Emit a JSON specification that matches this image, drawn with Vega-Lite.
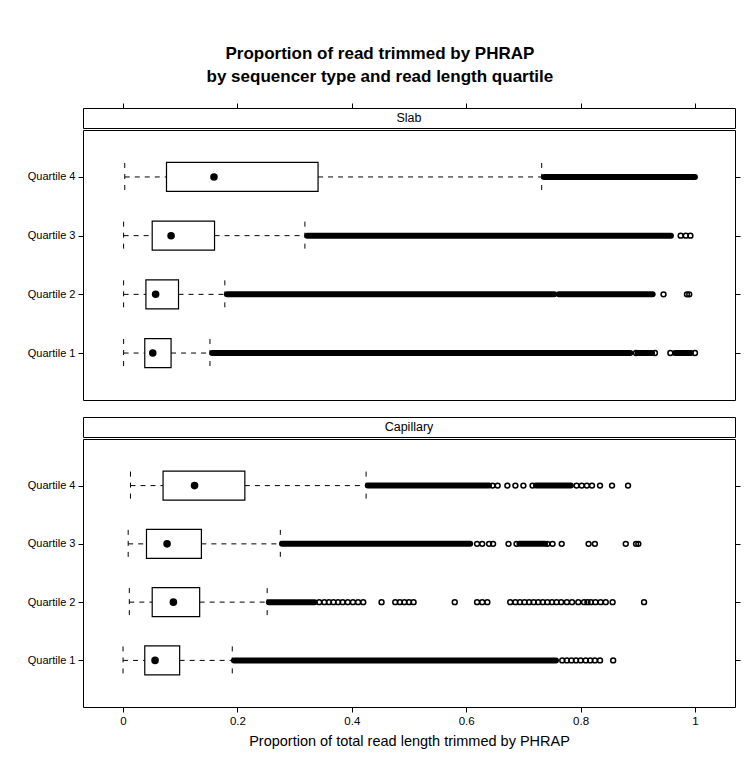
{
  "$schema": "https://vega.github.io/schema/vega-lite/v6.json",
  "padding": {"left": 26, "top": 45, "right": 5, "bottom": 5},
  "background": "white",
  "title": {
    "text": ["Proportion of read trimmed by PHRAP", "by sequencer type and read length quartile"],
    "font": "Liberation Sans",
    "fontSize": 17,
    "fontWeight": "bold",
    "color": "black",
    "anchor": "middle",
    "lineHeight": 23,
    "offset": 16,
    "dx": -4
  },
  "config": {
    "view": {"stroke": "black", "strokeWidth": 1},
    "font": "Liberation Sans",
    "axis": {
      "labelFont": "Liberation Sans",
      "titleFont": "Liberation Sans",
      "labelColor": "black",
      "titleColor": "black",
      "tickColor": "black",
      "domain": false,
      "grid": false
    }
  },
  "datasets": {
    "boxes": [
      {"panel": "Slab", "quartile": "Quartile 4", "lower": 0.003, "q1": 0.076, "median": 0.159, "q3": 0.341, "upper": 0.732},
      {"panel": "Slab", "quartile": "Quartile 3", "lower": 0.001, "q1": 0.051, "median": 0.084, "q3": 0.160, "upper": 0.318},
      {"panel": "Slab", "quartile": "Quartile 2", "lower": 0.001, "q1": 0.040, "median": 0.057, "q3": 0.097, "upper": 0.178},
      {"panel": "Slab", "quartile": "Quartile 1", "lower": 0.001, "q1": 0.038, "median": 0.052, "q3": 0.084, "upper": 0.152},
      {"panel": "Capillary", "quartile": "Quartile 4", "lower": 0.013, "q1": 0.070, "median": 0.125, "q3": 0.213, "upper": 0.425},
      {"panel": "Capillary", "quartile": "Quartile 3", "lower": 0.009, "q1": 0.041, "median": 0.077, "q3": 0.137, "upper": 0.275},
      {"panel": "Capillary", "quartile": "Quartile 2", "lower": 0.011, "q1": 0.051, "median": 0.088, "q3": 0.134, "upper": 0.252},
      {"panel": "Capillary", "quartile": "Quartile 1", "lower": 0.0, "q1": 0.038, "median": 0.056, "q3": 0.099, "upper": 0.191}
    ],
    "runs": [
      {"panel": "Slab", "quartile": "Quartile 4", "start": 0.736, "end": 1.0},
      {"panel": "Slab", "quartile": "Quartile 3", "start": 0.322, "end": 0.958},
      {"panel": "Slab", "quartile": "Quartile 2", "start": 0.182, "end": 0.754},
      {"panel": "Slab", "quartile": "Quartile 2", "start": 0.762, "end": 0.926},
      {"panel": "Slab", "quartile": "Quartile 1", "start": 0.156, "end": 0.887},
      {"panel": "Slab", "quartile": "Quartile 1", "start": 0.900, "end": 0.925},
      {"panel": "Slab", "quartile": "Quartile 1", "start": 0.965, "end": 0.993},
      {"panel": "Capillary", "quartile": "Quartile 4", "start": 0.428, "end": 0.640},
      {"panel": "Capillary", "quartile": "Quartile 4", "start": 0.722, "end": 0.783},
      {"panel": "Capillary", "quartile": "Quartile 3", "start": 0.278, "end": 0.607},
      {"panel": "Capillary", "quartile": "Quartile 3", "start": 0.693, "end": 0.738},
      {"panel": "Capillary", "quartile": "Quartile 2", "start": 0.255, "end": 0.335},
      {"panel": "Capillary", "quartile": "Quartile 1", "start": 0.194, "end": 0.757}
    ],
    "points": [
      {"panel": "Slab", "quartile": "Quartile 3", "value": 0.975},
      {"panel": "Slab", "quartile": "Quartile 3", "value": 0.984},
      {"panel": "Slab", "quartile": "Quartile 3", "value": 0.992},
      {"panel": "Slab", "quartile": "Quartile 2", "value": 0.945},
      {"panel": "Slab", "quartile": "Quartile 2", "value": 0.986},
      {"panel": "Slab", "quartile": "Quartile 2", "value": 0.990},
      {"panel": "Slab", "quartile": "Quartile 1", "value": 0.897},
      {"panel": "Slab", "quartile": "Quartile 1", "value": 0.930},
      {"panel": "Slab", "quartile": "Quartile 1", "value": 0.957},
      {"panel": "Slab", "quartile": "Quartile 1", "value": 1.0},
      {"panel": "Capillary", "quartile": "Quartile 4", "value": 0.646},
      {"panel": "Capillary", "quartile": "Quartile 4", "value": 0.655},
      {"panel": "Capillary", "quartile": "Quartile 4", "value": 0.672},
      {"panel": "Capillary", "quartile": "Quartile 4", "value": 0.686},
      {"panel": "Capillary", "quartile": "Quartile 4", "value": 0.700},
      {"panel": "Capillary", "quartile": "Quartile 4", "value": 0.716},
      {"panel": "Capillary", "quartile": "Quartile 4", "value": 0.793},
      {"panel": "Capillary", "quartile": "Quartile 4", "value": 0.802},
      {"panel": "Capillary", "quartile": "Quartile 4", "value": 0.811},
      {"panel": "Capillary", "quartile": "Quartile 4", "value": 0.820},
      {"panel": "Capillary", "quartile": "Quartile 4", "value": 0.834},
      {"panel": "Capillary", "quartile": "Quartile 4", "value": 0.855},
      {"panel": "Capillary", "quartile": "Quartile 4", "value": 0.883},
      {"panel": "Capillary", "quartile": "Quartile 3", "value": 0.619},
      {"panel": "Capillary", "quartile": "Quartile 3", "value": 0.628},
      {"panel": "Capillary", "quartile": "Quartile 3", "value": 0.640},
      {"panel": "Capillary", "quartile": "Quartile 3", "value": 0.647},
      {"panel": "Capillary", "quartile": "Quartile 3", "value": 0.674},
      {"panel": "Capillary", "quartile": "Quartile 3", "value": 0.688},
      {"panel": "Capillary", "quartile": "Quartile 3", "value": 0.742},
      {"panel": "Capillary", "quartile": "Quartile 3", "value": 0.751},
      {"panel": "Capillary", "quartile": "Quartile 3", "value": 0.767},
      {"panel": "Capillary", "quartile": "Quartile 3", "value": 0.814},
      {"panel": "Capillary", "quartile": "Quartile 3", "value": 0.825},
      {"panel": "Capillary", "quartile": "Quartile 3", "value": 0.879},
      {"panel": "Capillary", "quartile": "Quartile 3", "value": 0.897},
      {"panel": "Capillary", "quartile": "Quartile 3", "value": 0.901},
      {"panel": "Capillary", "quartile": "Quartile 2", "value": 0.343},
      {"panel": "Capillary", "quartile": "Quartile 2", "value": 0.352},
      {"panel": "Capillary", "quartile": "Quartile 2", "value": 0.360},
      {"panel": "Capillary", "quartile": "Quartile 2", "value": 0.368},
      {"panel": "Capillary", "quartile": "Quartile 2", "value": 0.376},
      {"panel": "Capillary", "quartile": "Quartile 2", "value": 0.384},
      {"panel": "Capillary", "quartile": "Quartile 2", "value": 0.393},
      {"panel": "Capillary", "quartile": "Quartile 2", "value": 0.402},
      {"panel": "Capillary", "quartile": "Quartile 2", "value": 0.411},
      {"panel": "Capillary", "quartile": "Quartile 2", "value": 0.420},
      {"panel": "Capillary", "quartile": "Quartile 2", "value": 0.452},
      {"panel": "Capillary", "quartile": "Quartile 2", "value": 0.476},
      {"panel": "Capillary", "quartile": "Quartile 2", "value": 0.484},
      {"panel": "Capillary", "quartile": "Quartile 2", "value": 0.492},
      {"panel": "Capillary", "quartile": "Quartile 2", "value": 0.500},
      {"panel": "Capillary", "quartile": "Quartile 2", "value": 0.508},
      {"panel": "Capillary", "quartile": "Quartile 2", "value": 0.580},
      {"panel": "Capillary", "quartile": "Quartile 2", "value": 0.619},
      {"panel": "Capillary", "quartile": "Quartile 2", "value": 0.628},
      {"panel": "Capillary", "quartile": "Quartile 2", "value": 0.637},
      {"panel": "Capillary", "quartile": "Quartile 2", "value": 0.677},
      {"panel": "Capillary", "quartile": "Quartile 2", "value": 0.686},
      {"panel": "Capillary", "quartile": "Quartile 2", "value": 0.694},
      {"panel": "Capillary", "quartile": "Quartile 2", "value": 0.702},
      {"panel": "Capillary", "quartile": "Quartile 2", "value": 0.710},
      {"panel": "Capillary", "quartile": "Quartile 2", "value": 0.718},
      {"panel": "Capillary", "quartile": "Quartile 2", "value": 0.726},
      {"panel": "Capillary", "quartile": "Quartile 2", "value": 0.734},
      {"panel": "Capillary", "quartile": "Quartile 2", "value": 0.742},
      {"panel": "Capillary", "quartile": "Quartile 2", "value": 0.750},
      {"panel": "Capillary", "quartile": "Quartile 2", "value": 0.758},
      {"panel": "Capillary", "quartile": "Quartile 2", "value": 0.766},
      {"panel": "Capillary", "quartile": "Quartile 2", "value": 0.776},
      {"panel": "Capillary", "quartile": "Quartile 2", "value": 0.785},
      {"panel": "Capillary", "quartile": "Quartile 2", "value": 0.796},
      {"panel": "Capillary", "quartile": "Quartile 2", "value": 0.806},
      {"panel": "Capillary", "quartile": "Quartile 2", "value": 0.812},
      {"panel": "Capillary", "quartile": "Quartile 2", "value": 0.818},
      {"panel": "Capillary", "quartile": "Quartile 2", "value": 0.826},
      {"panel": "Capillary", "quartile": "Quartile 2", "value": 0.835},
      {"panel": "Capillary", "quartile": "Quartile 2", "value": 0.844},
      {"panel": "Capillary", "quartile": "Quartile 2", "value": 0.856},
      {"panel": "Capillary", "quartile": "Quartile 2", "value": 0.911},
      {"panel": "Capillary", "quartile": "Quartile 1", "value": 0.768},
      {"panel": "Capillary", "quartile": "Quartile 1", "value": 0.776},
      {"panel": "Capillary", "quartile": "Quartile 1", "value": 0.784},
      {"panel": "Capillary", "quartile": "Quartile 1", "value": 0.792},
      {"panel": "Capillary", "quartile": "Quartile 1", "value": 0.800},
      {"panel": "Capillary", "quartile": "Quartile 1", "value": 0.809},
      {"panel": "Capillary", "quartile": "Quartile 1", "value": 0.817},
      {"panel": "Capillary", "quartile": "Quartile 1", "value": 0.825},
      {"panel": "Capillary", "quartile": "Quartile 1", "value": 0.834},
      {"panel": "Capillary", "quartile": "Quartile 1", "value": 0.857}
    ]
  },
  "spacing": 15,
  "vconcat": [
    {
      "spacing": 0,
      "vconcat": [
        {
          "width": 652,
          "height": 20,
          "data": {"values": [{"panel": "Slab"}]},
          "mark": {"type": "text", "fontSize": 12.5, "font": "Liberation Sans", "color": "black"},
          "encoding": {
            "text": {"field": "panel"},
            "x": {"datum": 0.5, "type": "quantitative", "scale": {"domain": [-0.07, 1.07], "nice": false, "zero": false},
              "axis": {"orient": "top", "values": [0, 0.2, 0.4, 0.6, 0.8, 1], "labels": false, "tickSize": 5, "title": null}}
          }
        },
        {
          "width": 652,
          "height": 270,
          "resolve": {"axis": {"y": "independent"}},
          "layer": [
            {
              "data": {"name": "boxes"},
              "transform": [{"filter": "datum.panel === 'Slab'"}],
              "mark": {"type": "rule", "color": "black", "strokeDash": [5, 5], "strokeWidth": 1},
              "encoding": {
                "x": {"field": "lower", "type": "quantitative", "scale": {"domain": [-0.07, 1.07], "nice": false, "zero": false}, "axis": null},
                "x2": {"field": "q1"},
                "y": {"field": "quartile", "type": "ordinal", "scale": {"type": "point", "domain": ["Quartile 4", "Quartile 3", "Quartile 2", "Quartile 1"], "padding": 0.8},
                  "axis": {"orient": "left", "title": null, "labelFontSize": 11, "tickSize": 5, "labelPadding": 3}}
              }
            },
            {
              "data": {"name": "boxes"},
              "transform": [{"filter": "datum.panel === 'Slab'"}],
              "mark": {"type": "rule", "color": "black", "strokeDash": [5, 5], "strokeWidth": 1},
              "encoding": {
                "x": {"field": "q3", "type": "quantitative", "axis": null},
                "x2": {"field": "upper"},
                "y": {"field": "quartile", "type": "ordinal", "axis": null}
              }
            },
            {
              "data": {"name": "boxes"},
              "transform": [{"filter": "datum.panel === 'Slab'"}],
              "mark": {"type": "rule", "color": "black", "strokeDash": [5, 6], "strokeWidth": 1, "yOffset": -14, "y2Offset": 14},
              "encoding": {
                "x": {"field": "lower", "type": "quantitative", "axis": null},
                "y": {"field": "quartile", "type": "ordinal", "axis": null},
                "y2": {"field": "quartile"}
              }
            },
            {
              "data": {"name": "boxes"},
              "transform": [{"filter": "datum.panel === 'Slab'"}],
              "mark": {"type": "rule", "color": "black", "strokeDash": [5, 6], "strokeWidth": 1, "yOffset": -14, "y2Offset": 14},
              "encoding": {
                "x": {"field": "upper", "type": "quantitative", "axis": null},
                "y": {"field": "quartile", "type": "ordinal", "axis": null},
                "y2": {"field": "quartile"}
              }
            },
            {
              "data": {"name": "boxes"},
              "transform": [{"filter": "datum.panel === 'Slab'"}],
              "mark": {"type": "bar", "size": 29, "fill": "white", "stroke": "black", "strokeWidth": 1.2},
              "encoding": {
                "x": {"field": "q1", "type": "quantitative", "axis": null},
                "x2": {"field": "q3"},
                "y": {"field": "quartile", "type": "ordinal", "axis": null}
              }
            },
            {
              "data": {"name": "boxes"},
              "transform": [{"filter": "datum.panel === 'Slab'"}],
              "mark": {"type": "point", "filled": true, "color": "black", "size": 57, "opacity": 1},
              "encoding": {
                "x": {"field": "median", "type": "quantitative", "axis": null},
                "y": {"field": "quartile", "type": "ordinal", "axis": null}
              }
            },
            {
              "data": {"name": "runs"},
              "transform": [{"filter": "datum.panel === 'Slab'"}],
              "mark": {"type": "rule", "color": "black", "strokeWidth": 6, "strokeCap": "round"},
              "encoding": {
                "x": {"field": "start", "type": "quantitative", "axis": null},
                "x2": {"field": "end"},
                "y": {"field": "quartile", "type": "ordinal", "axis": null}
              }
            },
            {
              "data": {"name": "points"},
              "transform": [{"filter": "datum.panel === 'Slab'"}],
              "mark": {"type": "point", "filled": false, "stroke": "black", "strokeWidth": 1.5, "size": 24, "opacity": 1},
              "encoding": {
                "x": {"field": "value", "type": "quantitative", "axis": null},
                "y": {"field": "quartile", "type": "ordinal", "axis": {"orient": "right", "title": null, "labels": false, "tickSize": 5}}
              }
            }
          ]
        }
      ]
    },
    {
      "spacing": 0,
      "vconcat": [
        {
          "width": 652,
          "height": 20,
          "data": {"values": [{"panel": "Capillary"}]},
          "mark": {"type": "text", "fontSize": 12.5, "font": "Liberation Sans", "color": "black"},
          "encoding": {
            "text": {"field": "panel"},
            "x": {"datum": 0.5, "type": "quantitative", "scale": {"domain": [-0.07, 1.07], "nice": false, "zero": false}, "axis": null}
          }
        },
        {
          "width": 652,
          "height": 268,
          "resolve": {"axis": {"y": "independent"}},
          "encoding": {
            "x": {"type": "quantitative", "scale": {"domain": [-0.07, 1.07], "nice": false, "zero": false},
              "axis": {"orient": "bottom", "values": [0, 0.2, 0.4, 0.6, 0.8, 1], "format": "~g", "title": "Proportion of total read length trimmed by PHRAP",
                "titleFontSize": 14.5, "titleFontWeight": "normal", "titlePadding": 8, "labelFontSize": 11.5, "tickSize": 5, "labelPadding": 3}}
          },
          "layer": [
            {
              "data": {"name": "boxes"},
              "transform": [{"filter": "datum.panel === 'Capillary'"}],
              "mark": {"type": "rule", "color": "black", "strokeDash": [5, 5], "strokeWidth": 1},
              "encoding": {
                "x": {"field": "lower"},
                "x2": {"field": "q1"},
                "y": {"field": "quartile", "type": "ordinal", "scale": {"type": "point", "domain": ["Quartile 4", "Quartile 3", "Quartile 2", "Quartile 1"], "padding": 0.8},
                  "axis": {"orient": "left", "title": null, "labelFontSize": 11, "tickSize": 5, "labelPadding": 3}}
              }
            },
            {
              "data": {"name": "boxes"},
              "transform": [{"filter": "datum.panel === 'Capillary'"}],
              "mark": {"type": "rule", "color": "black", "strokeDash": [5, 5], "strokeWidth": 1},
              "encoding": {
                "x": {"field": "q3"},
                "x2": {"field": "upper"},
                "y": {"field": "quartile", "type": "ordinal", "axis": null}
              }
            },
            {
              "data": {"name": "boxes"},
              "transform": [{"filter": "datum.panel === 'Capillary'"}],
              "mark": {"type": "rule", "color": "black", "strokeDash": [5, 6], "strokeWidth": 1, "yOffset": -14, "y2Offset": 14},
              "encoding": {
                "x": {"field": "lower"},
                "y": {"field": "quartile", "type": "ordinal", "axis": null},
                "y2": {"field": "quartile"}
              }
            },
            {
              "data": {"name": "boxes"},
              "transform": [{"filter": "datum.panel === 'Capillary'"}],
              "mark": {"type": "rule", "color": "black", "strokeDash": [5, 6], "strokeWidth": 1, "yOffset": -14, "y2Offset": 14},
              "encoding": {
                "x": {"field": "upper"},
                "y": {"field": "quartile", "type": "ordinal", "axis": null},
                "y2": {"field": "quartile"}
              }
            },
            {
              "data": {"name": "boxes"},
              "transform": [{"filter": "datum.panel === 'Capillary'"}],
              "mark": {"type": "bar", "size": 29, "fill": "white", "stroke": "black", "strokeWidth": 1.2},
              "encoding": {
                "x": {"field": "q1"},
                "x2": {"field": "q3"},
                "y": {"field": "quartile", "type": "ordinal", "axis": null}
              }
            },
            {
              "data": {"name": "boxes"},
              "transform": [{"filter": "datum.panel === 'Capillary'"}],
              "mark": {"type": "point", "filled": true, "color": "black", "size": 57, "opacity": 1},
              "encoding": {
                "x": {"field": "median"},
                "y": {"field": "quartile", "type": "ordinal", "axis": null}
              }
            },
            {
              "data": {"name": "runs"},
              "transform": [{"filter": "datum.panel === 'Capillary'"}],
              "mark": {"type": "rule", "color": "black", "strokeWidth": 6, "strokeCap": "round"},
              "encoding": {
                "x": {"field": "start"},
                "x2": {"field": "end"},
                "y": {"field": "quartile", "type": "ordinal", "axis": null}
              }
            },
            {
              "data": {"name": "points"},
              "transform": [{"filter": "datum.panel === 'Capillary'"}],
              "mark": {"type": "point", "filled": false, "stroke": "black", "strokeWidth": 1.5, "size": 24, "opacity": 1},
              "encoding": {
                "x": {"field": "value"},
                "y": {"field": "quartile", "type": "ordinal", "axis": {"orient": "right", "title": null, "labels": false, "tickSize": 5}}
              }
            }
          ]
        }
      ]
    }
  ]
}
